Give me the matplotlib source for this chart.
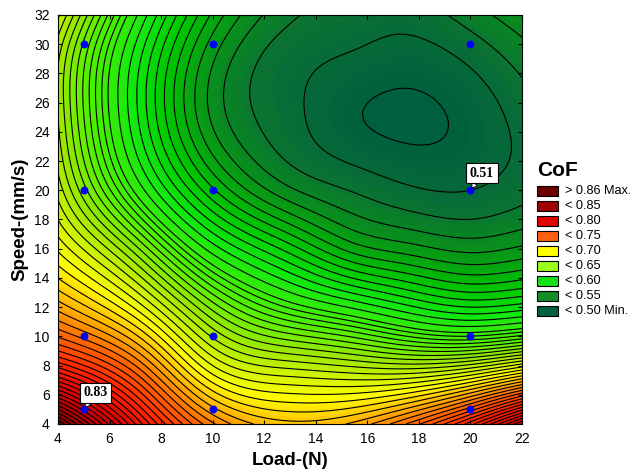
import numpy as np
import matplotlib
matplotlib.use("Agg")
import matplotlib.pyplot as plt
from matplotlib.colors import LinearSegmentedColormap
from matplotlib.patches import Rectangle

# CoF values at a set of load/speed nodes
node_load = [4, 7, 10, 13, 15.5, 17.5, 20, 22]
node_speed = [4, 8, 12, 16, 20, 25, 30, 32]
cof_nodes = [
    [0.890, 0.815, 0.760, 0.742, 0.748, 0.765, 0.800, 0.840],  # speed 4
    [0.800, 0.765, 0.715, 0.700, 0.695, 0.692, 0.698, 0.712],  # speed 8
    [0.750, 0.720, 0.675, 0.645, 0.628, 0.613, 0.600, 0.605],  # speed 12
    [0.720, 0.680, 0.625, 0.585, 0.555, 0.545, 0.537, 0.542],  # speed 16
    [0.700, 0.638, 0.572, 0.532, 0.519, 0.512, 0.510, 0.516],  # speed 20
    [0.690, 0.613, 0.538, 0.513, 0.501, 0.498, 0.503, 0.514],  # speed 25
    [0.694, 0.620, 0.546, 0.516, 0.511, 0.508, 0.516, 0.528],  # speed 30
    [0.704, 0.632, 0.558, 0.522, 0.515, 0.514, 0.525, 0.537],  # speed 32
]

# experimental design points
pt_load = [5, 10, 20, 5, 10, 20, 5, 10, 20, 5, 10, 20]
pt_speed = [5, 5, 5, 10, 10, 10, 20, 20, 20, 30, 30, 30]

legend_labels = ['> 0.86 Max.', '< 0.85', '< 0.80', '< 0.75', '< 0.70',
                 '< 0.65', '< 0.60', '< 0.55', '< 0.50 Min.']
legend_colors = ['#6e0000', '#a00000', '#e00000', '#ff6010', '#ffff00',
                 '#99ff1a', '#18e018', '#148c28', '#006040']


def spline(xk, yk, xq):
    # natural cubic spline through (xk, yk), evaluated at xq
    xk = np.asarray(xk, float)
    yk = np.asarray(yk, float)
    n = len(xk)
    h = np.diff(xk)
    A = np.zeros((n, n))
    r = np.zeros(n)
    A[0, 0] = A[-1, -1] = 1
    for i in range(1, n - 1):
        A[i, i - 1] = h[i - 1]
        A[i, i] = 2 * (h[i - 1] + h[i])
        A[i, i + 1] = h[i]
        r[i] = 6 * ((yk[i + 1] - yk[i]) / h[i] - (yk[i] - yk[i - 1]) / h[i - 1])
    M = np.linalg.solve(A, r)
    idx = np.clip(np.searchsorted(xk, xq) - 1, 0, n - 2)
    x0, x1 = xk[idx], xk[idx + 1]
    hh = x1 - x0
    t0, t1 = x1 - xq, xq - x0
    return (M[idx] * t0**3 / (6 * hh) + M[idx + 1] * t1**3 / (6 * hh)
            + (yk[idx] / hh - M[idx] * hh / 6) * t0
            + (yk[idx + 1] / hh - M[idx + 1] * hh / 6) * t1)


xs = np.linspace(4, 22, 360)
ys = np.linspace(4, 32, 360)
rows = np.array([spline(node_load, row, xs) for row in cof_nodes])
zz = np.array([spline(node_speed, rows[:, j], ys) for j in range(len(xs))]).T
xx, yy = np.meshgrid(xs, ys)

vmin, vmax = 0.49, 0.90
nodes = [(0.49, '#005a3c'), (0.50, '#00603e'), (0.515, '#0a7034'),
         (0.54, '#089418'), (0.58, '#00c800'), (0.615, '#10e810'),
         (0.66, '#50f000'), (0.69, '#a0e800'), (0.725, '#ffff00'),
         (0.765, '#ff7000'), (0.795, '#ff2800'), (0.83, '#e00000'),
         (0.87, '#a00000'), (0.90, '#680000')]
cmap = LinearSegmentedColormap.from_list(
    'cof', [((v - vmin) / (vmax - vmin), c) for v, c in nodes])

fig = plt.figure(figsize=(6.33, 4.74), dpi=100)
ax = fig.add_axes([0.0916, 0.1055, 0.733, 0.863])

ax.contourf(xx, yy, np.clip(zz, vmin, vmax), levels=np.linspace(vmin, vmax, 165),
            cmap=cmap, vmin=vmin, vmax=vmax)
# isolines: 0.01 apart in the green part, closer in the yellow/red part
line_levels = np.unique(np.round(np.concatenate([
    np.arange(0.50, 0.635, 0.01), np.arange(0.64, 0.92, 0.00625)]), 5))
ax.contour(xx, yy, zz, levels=line_levels, colors='black', linewidths=0.8)

ax.scatter(pt_load, pt_speed, s=22, color='#0000ff', zorder=5)

for (px, py, txt) in [(5, 5, '0.83'), (20, 20, '0.51')]:
    ax.annotate(txt, xy=(px, py), xytext=(px + 0.45, py + 1.15),
                ha='center', va='center', fontsize=10, fontweight='bold',
                family='Liberation Serif', zorder=6,
                bbox=dict(boxstyle='square,pad=0.25', fc='white', ec='black', lw=0.8),
                arrowprops=dict(arrowstyle='wedge,tail_width=0.5', fc='white',
                                ec='black', lw=0.6, shrinkA=0, shrinkB=2))

ax.set_xlim(4, 22)
ax.set_ylim(4, 32)
ax.set_xticks(np.arange(4, 23, 2))
ax.set_yticks(np.arange(4, 33, 2))
ax.tick_params(direction='in', top=True, right=True, length=3,
               labelsize=10, pad=6)
for lab in ax.get_xticklabels() + ax.get_yticklabels():
    lab.set_family('Liberation Sans')
ax.set_xlabel('Load-(N)', fontsize=13.5, fontweight='bold', family='Liberation Sans')
ax.set_ylabel('Speed-(mm/s)', fontsize=13.5, fontweight='bold', family='Liberation Sans')

# legend
fig.text(537 / 633, 1 - 171 / 474, 'CoF', fontsize=15, fontweight='bold',
         family='Liberation Sans', va='center', ha='left')
for i, (lab, col) in enumerate(zip(legend_labels, legend_colors)):
    yc = 191 + i * 15.0
    fig.patches.append(Rectangle((537 / 633, 1 - (yc + 5) / 474), 21 / 633, 10 / 474,
                                 transform=fig.transFigure, fc=col, ec='black', lw=0.8))
    fig.text(565 / 633, 1 - yc / 474, lab, fontsize=9.2, family='Liberation Sans',
             va='center', ha='left')

fig.savefig('out.png', dpi=100)
